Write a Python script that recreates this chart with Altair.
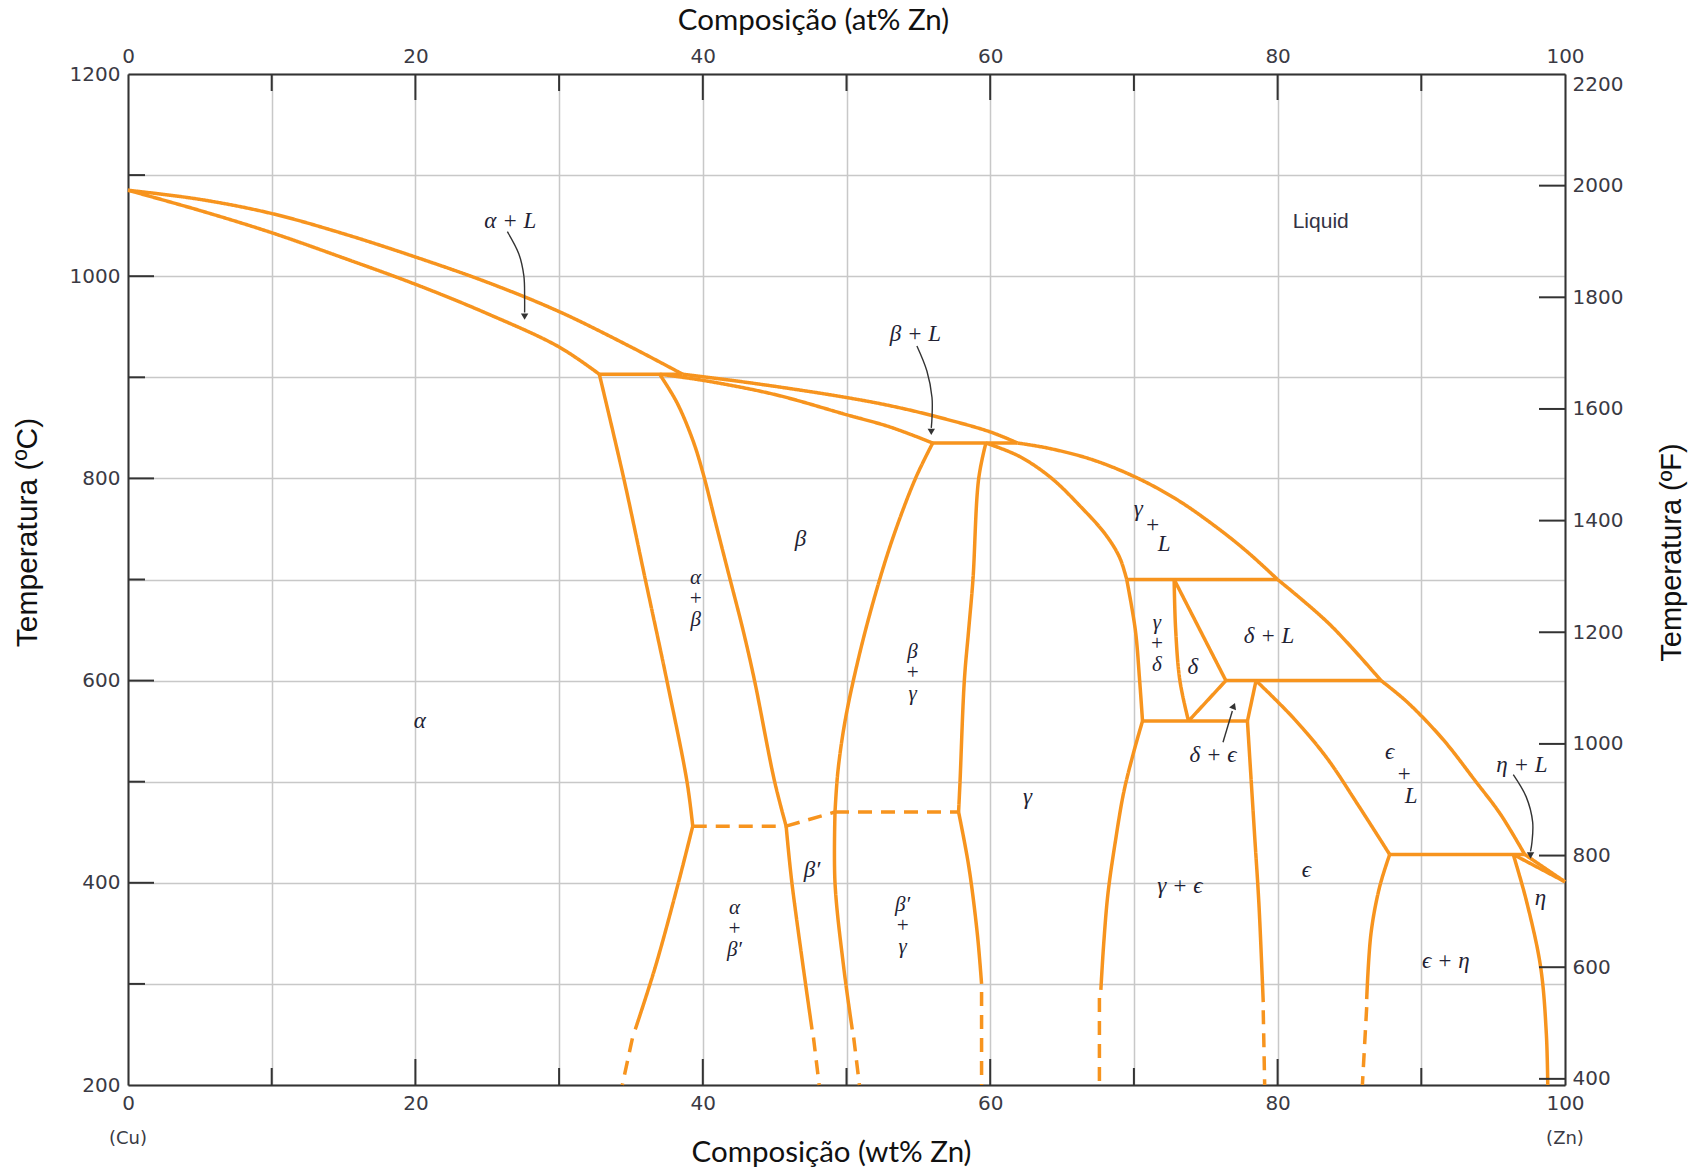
import altair as alt
import pandas as pd

# ---------------- phase-boundary curves (wt% Zn, temperature °C) ----------------
liq_alpha_x = [0, 5, 10, 15, 20, 25, 30, 35, 38.6]
liq_alpha_T = [1085, 1076, 1062, 1042, 1019, 994, 965, 930, 903]
sol_alpha_x = [0, 5, 10, 15, 20, 25, 30, 32.8]
sol_alpha_T = [1085, 1065, 1043, 1018, 992, 963, 930, 903]
peri903_x = [32.8, 38.6]
peri903_T = [903, 903]
liq_beta_x = [38.6, 42, 46, 50, 53, 56, 60, 61.9]
liq_beta_T = [903, 897, 889, 880, 872, 862, 846, 835]
sol_beta_x = [37.0, 40, 45, 50, 53, 56.0]
sol_beta_T = [903, 897, 883, 863, 851, 835]
peri835_x = [56.0, 61.9]
peri835_T = [835, 835]
liq_gamma_x = [61.9, 64, 67, 70, 73, 76, 78, 80]
liq_gamma_T = [835, 830, 819, 802, 779, 749, 726, 700]
liq_delta_x = [80, 83.6, 87.2]
liq_delta_T = [700, 656, 600]
liq_eps_x = [87.2, 89, 91.5, 93.8, 95.5, 97.2]
liq_eps_T = [600, 579, 542, 500, 468, 428]
liq_eta_x = [97.2, 100]
liq_eta_T = [428, 401]
sol_gamma_x = [59.7, 62, 64.2, 66.3, 68, 69, 69.5]
sol_gamma_T = [835, 822, 801, 772, 745, 722, 700]
peri700_x = [69.5, 80]
peri700_T = [700, 700]
gam_gd_x = [69.5, 70.1, 70.4, 70.6]
gam_gd_T = [700, 650, 600, 560]
gam_ge_x = [70.6, 70.0, 69.3, 68.7, 68.2, 67.9, 67.7]
gam_ge_T = [560, 530, 490, 440, 390, 340, 294]
gam_ge_dash_x = [67.6, 67.6]
gam_ge_dash_T = [286, 200]
del_left_x = [72.8, 72.9, 73.2, 73.8]
del_left_T = [700, 652, 600, 560]
del_liq_x = [72.8, 76.4]
del_liq_T = [700, 600]
del_eps_x = [76.4, 73.8]
del_eps_T = [600, 560]
peri600_x = [76.4, 87.2]
peri600_T = [600, 600]
eut560_x = [70.6, 77.9]
eut560_T = [560, 560]
eps_top_x = [78.5, 77.9]
eps_top_T = [600, 560]
eps_ge_x = [77.9, 78.1, 78.4, 78.7, 79.0]
eps_ge_T = [560, 515, 447, 379, 282]
eps_ge_dash_x = [79.0, 79.1]
eps_ge_dash_T = [274, 200]
eps_liq_x = [78.5, 81.1, 83.4, 85.6, 87.8]
eps_liq_T = [600, 563, 524, 477, 428]
peri428_x = [87.8, 97.2]
peri428_T = [428, 428]
eps_eta_x = [87.8, 87.1, 86.5, 86.2]
eps_eta_T = [428, 396, 350, 285]
eps_eta_dash_x = [86.2, 85.9]
eps_eta_dash_T = [277, 200]
sol_eta_x = [96.4, 100]
sol_eta_T = [428, 401]
eta_solvus_x = [96.4, 97.3, 98.3, 98.7, 98.8]
eta_solvus_T = [428, 383, 317, 251, 200]
alpha_solvus_x = [32.8, 34.5, 36.0, 37.5, 38.9, 39.3]
alpha_solvus_T = [903, 800, 700, 600, 500, 456]
alpha_ab_x = [39.3, 38.3, 36.7, 35.3]
alpha_ab_T = [456, 400, 317, 255]
alpha_ab_dash_x = [35.1, 34.4]
alpha_ab_dash_T = [246, 200]
beta_ab_x = [37.0, 38.2, 39.3, 40, 41.0, 41.9, 42.8, 43.6, 45.0, 45.8]
beta_ab_T = [903, 875, 838, 806, 750, 700, 650, 600, 500, 456]
betap_ab_x = [45.8, 46.2, 47.6]
betap_ab_T = [456, 400, 255]
betap_ab_dash_x = [47.7, 48.1]
betap_ab_dash_T = [247, 200]
order1_x = [39.3, 45.8]
order1_T = [456, 456]
order2_x = [45.8, 49.2]
order2_T = [456, 470]
order3_x = [49.2, 57.8]
order3_T = [470, 470]
beta_bg_x = [56.0, 54.8, 53.2, 51.9, 50.8, 49.9, 49.4, 49.2]
beta_bg_T = [835, 800, 740, 680, 620, 560, 510, 470]
betap_bg_x = [49.2, 49.2, 49.8, 50.4]
betap_bg_T = [470, 400, 317, 255]
betap_bg_dash_x = [50.5, 50.9]
betap_bg_dash_T = [247, 200]
gam_bg_x = [59.7, 59.2, 58.8, 58.5, 58.2, 57.9, 57.8]
gam_bg_T = [835, 800, 700, 650, 600, 500, 470]
gam_bpg_x = [57.8, 58.5, 59.1, 59.4]
gam_bpg_T = [470, 417, 350, 300]
gam_bpg_dash_x = [59.4, 59.4]
gam_bpg_dash_T = [292, 200]

segments = [
    ("liq_alpha", liq_alpha_x, liq_alpha_T, "solid"),
    ("sol_alpha", sol_alpha_x, sol_alpha_T, "solid"),
    ("peri903", peri903_x, peri903_T, "solid"),
    ("liq_beta", liq_beta_x, liq_beta_T, "solid"),
    ("sol_beta", sol_beta_x, sol_beta_T, "solid"),
    ("peri835", peri835_x, peri835_T, "solid"),
    ("liq_gamma", liq_gamma_x, liq_gamma_T, "solid"),
    ("liq_delta", liq_delta_x, liq_delta_T, "solid"),
    ("liq_eps", liq_eps_x, liq_eps_T, "solid"),
    ("liq_eta", liq_eta_x, liq_eta_T, "solid"),
    ("sol_gamma", sol_gamma_x, sol_gamma_T, "solid"),
    ("peri700", peri700_x, peri700_T, "solid"),
    ("gam_gd", gam_gd_x, gam_gd_T, "solid"),
    ("gam_ge", gam_ge_x, gam_ge_T, "solid"),
    ("gam_ge_dash", gam_ge_dash_x, gam_ge_dash_T, "dashed"),
    ("del_left", del_left_x, del_left_T, "solid"),
    ("del_liq", del_liq_x, del_liq_T, "solid"),
    ("del_eps", del_eps_x, del_eps_T, "solid"),
    ("peri600", peri600_x, peri600_T, "solid"),
    ("eut560", eut560_x, eut560_T, "solid"),
    ("eps_top", eps_top_x, eps_top_T, "solid"),
    ("eps_ge", eps_ge_x, eps_ge_T, "solid"),
    ("eps_ge_dash", eps_ge_dash_x, eps_ge_dash_T, "dashed"),
    ("eps_liq", eps_liq_x, eps_liq_T, "solid"),
    ("peri428", peri428_x, peri428_T, "solid"),
    ("eps_eta", eps_eta_x, eps_eta_T, "solid"),
    ("eps_eta_dash", eps_eta_dash_x, eps_eta_dash_T, "dashed"),
    ("sol_eta", sol_eta_x, sol_eta_T, "solid"),
    ("eta_solvus", eta_solvus_x, eta_solvus_T, "solid"),
    ("alpha_solvus", alpha_solvus_x, alpha_solvus_T, "solid"),
    ("alpha_ab", alpha_ab_x, alpha_ab_T, "solid"),
    ("alpha_ab_dash", alpha_ab_dash_x, alpha_ab_dash_T, "dashed"),
    ("beta_ab", beta_ab_x, beta_ab_T, "solid"),
    ("betap_ab", betap_ab_x, betap_ab_T, "solid"),
    ("betap_ab_dash", betap_ab_dash_x, betap_ab_dash_T, "dashed"),
    ("order1", order1_x, order1_T, "dashed"),
    ("order2", order2_x, order2_T, "dashed"),
    ("order3", order3_x, order3_T, "dashed"),
    ("beta_bg", beta_bg_x, beta_bg_T, "solid"),
    ("betap_bg", betap_bg_x, betap_bg_T, "solid"),
    ("betap_bg_dash", betap_bg_dash_x, betap_bg_dash_T, "dashed"),
    ("gam_bg", gam_bg_x, gam_bg_T, "solid"),
    ("gam_bpg", gam_bpg_x, gam_bpg_T, "solid"),
    ("gam_bpg_dash", gam_bpg_dash_x, gam_bpg_dash_T, "dashed"),
]

# ---------------- region labels ----------------
label_text = ["α + L", "β + L", "β", "α",
              "γ", "+", "L", "δ",
              "δ + L", "δ + ϵ", "γ", "γ + ϵ", "ϵ", "ϵ", "+", "L",
              "η + L", "η", "ϵ + η", "β′"]
label_x = [26.6, 54.8, 46.8, 20.3,
           70.3, 71.3, 72.1, 74.1,
           79.4, 75.5, 62.6, 73.2, 82.0, 87.8, 88.8, 89.3,
           97.0, 98.3, 91.7, 47.6]
label_T = [1055, 943, 740, 560,
           770, 754, 735, 613,
           644, 526, 485, 397, 413, 529, 508, 486,
           517, 385, 323, 413]
# stacked labels (T is the position of the first line)
stack_text = ["α\n+\nβ", "β\n+\nγ", "γ\n+\nδ", "α\n+\nβ′", "β′\n+\nγ"]
stack_x = [39.5, 54.6, 71.6, 42.2, 53.9]
stack_T = [701, 628, 657, 375, 378]
liquid_text = ["Liquid"]
liquid_x = [83.0]
liquid_T = [1054]
end_text = ["(Cu)", "(Zn)"]
end_x = [0, 100]
end_T = [147, 147]

# ---------------- arrows ----------------
arrow_aL_x = [26.4, 27.2, 27.55, 27.6, 27.6]
arrow_aL_T = [1044, 1022, 1000, 978, 964]
arrow_bL_x = [54.9, 55.6, 55.95, 55.95, 55.9]
arrow_bL_T = [931, 906, 880, 860, 850]
arrow_de_x = [76.2, 76.85]
arrow_de_T = [539, 570]
arrow_hL_x = [96.4, 97.3, 97.75, 97.7, 97.6]
arrow_hL_T = [507, 485, 460, 440, 431]
head_x = [27.6, 55.9, 76.95, 97.6]
head_T = [960, 846, 575, 427]
head_shape = ["triangle-down", "triangle-down", "triangle-up", "triangle-down"]
head_angle = [0, 0, 22, 0]

# ---------------- tick positions ----------------
x_major_ticks = [20, 40, 60, 80]
x_minor_ticks = [10, 30, 50, 70, 90]
y_major_ticks = [400, 600, 800, 1000]
y_minor_ticks = [300, 500, 700, 900, 1100]
f_ticks = [400, 600, 800, 1000, 1200, 1400, 1600, 1800, 2000]
f_domain = [389, 2200]

ORANGE = "#F7941E"
W, H = 1437, 1011

rows = []
for name, xs_, ts_, style in segments:
    for i, (a, b) in enumerate(zip(xs_, ts_)):
        rows.append({"seg": name, "i": i, "x": a, "T": b, "style": style})
df_lines = pd.DataFrame(rows)

arrows = [("aL", arrow_aL_x, arrow_aL_T), ("bL", arrow_bL_x, arrow_bL_T),
          ("de", arrow_de_x, arrow_de_T), ("hL", arrow_hL_x, arrow_hL_T)]
arows = []
for name, xs_, ts_ in arrows:
    for i, (a, b) in enumerate(zip(xs_, ts_)):
        arows.append({"seg": name, "i": i, "x": a, "T": b})
df_arrows = pd.DataFrame(arows)
df_heads = pd.DataFrame({"x": head_x, "T": head_T, "shape": head_shape, "angle": head_angle})
df_labels = pd.DataFrame({"x": label_x, "T": label_T, "text": label_text})
df_stack = pd.DataFrame({"x": stack_x, "T": stack_T, "text": stack_text})
df_liquid = pd.DataFrame({"x": liquid_x, "T": liquid_T, "text": liquid_text})
df_end = pd.DataFrame({"x": end_x, "T": end_T, "text": end_text})

xsc = alt.Scale(domain=[0, 100], nice=False, zero=False)
ysc = alt.Scale(domain=[200, 1200], nice=False, zero=False)
LABEL_COLOR = "#3a3a44"

bottom_axis = alt.Axis(
    values=list(range(0, 101, 10)), format="d",
    labelExpr="datum.value % 20 == 0 ? datum.label : ''",
    ticks=False, grid=True, gridColor="#c8c8c8", gridWidth=1.5,
    domainColor="#333333", domainWidth=2, labelFont="DejaVu Sans", labelFontSize=20,
    labelColor=LABEL_COLOR, labelPadding=8, labelOverlap=False, labelFlush=False,
    title="Composição (wt% Zn)", titleFont="Lato", titleFontSize=29.5, titleFontWeight="normal",
    titleColor="#111111", titleX=703, titleY=67, titleAlign="center", titleBaseline="middle")
left_axis = alt.Axis(
    values=list(range(200, 1201, 100)), format="d",
    labelExpr="datum.value % 200 == 0 ? datum.label : ''",
    ticks=False, grid=True, gridColor="#c8c8c8", gridWidth=1.5,
    domainColor="#333333", domainWidth=2, labelFont="DejaVu Sans", labelFontSize=20,
    labelColor=LABEL_COLOR, labelPadding=8, labelOverlap=False, labelFlush=False,
    title="Temperatura (ºC)", titleFont="Liberation Sans", titleFontSize=30,
    titleFontWeight="normal", titleColor="#111111", titleAngle=270, titleX=-101, titleY=458,
    titleAlign="center", titleBaseline="middle")
top_axis = alt.Axis(
    orient="top", values=list(range(0, 101, 20)), format="d", ticks=False, grid=False,
    domainColor="#333333", domainWidth=2, labelFont="DejaVu Sans", labelFontSize=20,
    labelColor=LABEL_COLOR, labelPadding=8, labelOverlap=False, labelFlush=False,
    title="Composição (at% Zn)", titleFont="Lato", titleFontSize=29.5, titleFontWeight="normal",
    titleColor="#111111", titleX=685, titleY=-54, titleAlign="center", titleBaseline="middle")
right_axis = alt.Axis(
    orient="right", values=list(range(400, 2201, 200)), format="d", ticks=False, grid=False,
    domainColor="#333333", domainWidth=2, labelFont="DejaVu Sans", labelFontSize=20,
    labelColor=LABEL_COLOR, labelPadding=7, labelOverlap=False, labelFlush=False,
    labelBaseline={"condition": {"test": "datum.value == 2200", "value": "top"}, "value": "middle"},
    title="Temperatura (ºF)", titleFont="Liberation Sans", titleFontSize=29,
    titleFontWeight="normal", titleColor="#111111", titleAngle=270, titleX=106, titleY=478,
    titleAlign="center", titleBaseline="middle")

lines = alt.Chart(df_lines).mark_line(color=ORANGE, strokeWidth=3.5, interpolate="catmull-rom").encode(
    x=alt.X("x:Q", scale=xsc, axis=bottom_axis),
    y=alt.Y("T:Q", scale=ysc, axis=left_axis),
    detail="seg:N",
    order="i:Q",
    strokeDash=alt.StrokeDash("style:N", scale=alt.Scale(domain=["solid", "dashed"], range=[[1, 0], [14, 9]]), legend=None),
)

arrow_lines = alt.Chart(df_arrows).mark_line(color="#333333", strokeWidth=1.4, interpolate="catmull-rom").encode(
    x=alt.X("x:Q", scale=xsc), y=alt.Y("T:Q", scale=ysc), detail="seg:N", order="i:Q")

heads = alt.Chart(df_heads).mark_point(filled=True, color="#333333", size=55, opacity=1).encode(
    x=alt.X("x:Q", scale=xsc), y=alt.Y("T:Q", scale=ysc),
    shape=alt.Shape("shape:N", scale=None), angle=alt.Angle("angle:Q", scale=None))

greek = alt.Chart(df_labels).mark_text(font="Liberation Serif", fontStyle="italic", fontSize=23,
                                       color="#222233", align="center", baseline="middle").encode(
    x=alt.X("x:Q", scale=xsc), y=alt.Y("T:Q", scale=ysc), text="text:N")

stacks = alt.Chart(df_stack).mark_text(font="Liberation Serif", fontStyle="italic", fontSize=21,
                                       lineBreak="\n", lineHeight=21,
                                       color="#222233", align="center", baseline="middle").encode(
    x=alt.X("x:Q", scale=xsc), y=alt.Y("T:Q", scale=ysc), text="text:N")

liquid = alt.Chart(df_liquid).mark_text(font="Liberation Sans", fontSize=21, color="#333344",
                                        align="center", baseline="middle").encode(
    x=alt.X("x:Q", scale=xsc), y=alt.Y("T:Q", scale=ysc), text="text:N")

ends = alt.Chart(df_end).mark_text(font="DejaVu Sans", fontSize=18, color=LABEL_COLOR,
                                   align="center", baseline="middle", clip=False).encode(
    x=alt.X("x:Q", scale=xsc), y=alt.Y("T:Q", scale=ysc), text="text:N")

def xticks(vals, length, top):
    d = pd.DataFrame({"x": vals})
    if top:
        return alt.Chart(d).mark_rule(color="#333333", strokeWidth=2).encode(
            x=alt.X("x:Q", scale=xsc), y=alt.value(0), y2=alt.value(length))
    return alt.Chart(d).mark_rule(color="#333333", strokeWidth=2).encode(
        x=alt.X("x:Q", scale=xsc), y=alt.value(H), y2=alt.value(H - length))

def yticks(vals, length):
    d = pd.DataFrame({"T": vals})
    return alt.Chart(d).mark_rule(color="#333333", strokeWidth=2).encode(
        y=alt.Y("T:Q", scale=ysc), x=alt.value(0), x2=alt.value(length))

main = alt.layer(
    lines, arrow_lines, heads, greek, stacks, liquid, ends,
    xticks(x_major_ticks, 26, False), xticks(x_minor_ticks, 17, False),
    xticks(x_major_ticks, 26, True), xticks(x_minor_ticks, 17, True),
    yticks(y_major_ticks, 26), yticks(y_minor_ticks, 17),
)

# secondary axes: at% Zn on top, °F on right
df_dummy = pd.DataFrame({"at": [0, 100], "F": f_domain})
fsc = alt.Scale(domain=f_domain, nice=False, zero=False)
atsc = alt.Scale(domain=[0, 100], nice=False, zero=False)
dummy = alt.Chart(df_dummy).mark_point(opacity=0).encode(
    x=alt.X("at:Q", scale=atsc, axis=top_axis),
    y=alt.Y("F:Q", scale=fsc, axis=right_axis))
rticks = alt.Chart(pd.DataFrame({"F": f_ticks})).mark_rule(color="#333333", strokeWidth=2).encode(
    y=alt.Y("F:Q", scale=fsc), x=alt.value(W), x2=alt.value(W - 26))
secondary = alt.layer(dummy, rticks)

chart = alt.layer(main, secondary).resolve_scale(x="independent", y="independent").properties(
    width=W, height=H,
    padding={"left": 128, "top": 74, "right": 1704 - 128 - W, "bottom": 1171 - 74 - H},
    autosize=alt.AutoSizeParams(type="none"),
).configure_view(stroke=None).configure(background="white")

chart.save("out.html", embed_options={"renderer": "svg", "actions": False})
